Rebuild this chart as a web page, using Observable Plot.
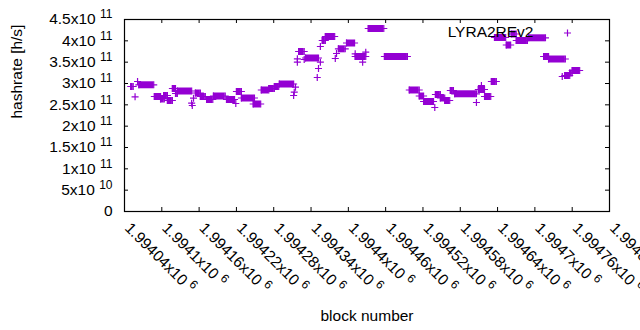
<!DOCTYPE html>
<html>
<head>
<meta charset="utf-8">
<script src="https://cdn.jsdelivr.net/npm/d3@7"></script>
<script src="https://cdn.jsdelivr.net/npm/@observablehq/plot@0.6"></script>
<style>
  html, body { margin: 0; padding: 0; background: #fff; }
</style>
</head>
<body>
<div id="chart"></div>
<script>
// ---- data ----
const BASE = 1994040;                 // first block on the axis
const seriesName = "LYRA2REv2";
// dense runs of blocks with the same hashrate: [first block offset, last block offset, hashrate in GH/s]
const runs = [
  [10,14,293],[23,47,297],[48,58,269.5],[58,64,263.7],[63,69,271.9],[69,77,260.2],
  [77,82,288.3],[82,85,276.6],[85,108,282.4],[114,122,277.7],[122,130,269.5],
  [132,142,262.5],[143,162,270.7],[164,177,262.5],[180,188,281.3],[188,209,266],
  [207,219,252],[220,232,284.8],[232,241,288.3],[241,248,293],[249,272,298.8],
  [280,289,375],[291,312,359.8],[318,323,400.8],[323,338,410.2],[344,355,381.3],
  [357,370,394.9],[371,388,363.3],[392,417,428.9],[418,455,363.3],[458,474,284.8],
  [474,481,270.7],[481,497,257.8],[500,508,274.2],[508,515,266],[515,523,260.2],
  [524,529,283.6],[531,566,275.9],[569,579,285.9],[579,589,269.5],[590,598,304.7],
  [595,613,407.8],[614,621,390.2],[622,630,416],[630,648,400.8],[650,677,407.1],
  [674,682,363.3],[682,709,357.4],[708,716,318.8],[716,720,324.6],[720,732,330.5]
];
// isolated blocks: [block offset, hashrate in GH/s]
const singles = [
  [17,268.8],[21,304.7],[109,248.4],[108,253.8],[111,265.5],[179,253.1],
  [275,291.3],[273,279.6],[272,271.9],[278,357.9],[278,349.9],[289,356.3],
  [315,349.9],[312,335.2],[310,314.1],[315,386.7],[339,358.6],[341,370.3],
  [371,369.6],[383,349.9],[388,373.4],[499,243.8],[566,255.5],[574,295.3],[704,316.4]
];
const xTicks = [1994040,1994100,1994160,1994220,1994280,1994340,1994400,1994460,1994520,1994580,1994640,1994700,1994760,1994820];
const yTicks = [0,0.5e11,1e11,1.5e11,2e11,2.5e11,3e11,3.5e11,4e11,4.5e11];
const xDomain = [1994040, 1994820];
const yDomain = [0, 4.5e11];

// ---- build ----
const runRows = runs.map(([a, b, v]) => ({x1: BASE + a, x2: BASE + b, y: v * 1e9}));
const endRows = runRows.flatMap(r => [{x: r.x1, y: r.y}, {x: r.x2, y: r.y}]);
const singleRows = singles.map(([a, v]) => ({x: BASE + a, y: v * 1e9}));

const W = 640, H = 330, ML = 124, MR = 31, MT = 19, MB = 119;
const IW = W - ML - MR, IH = H - MT - MB;
const TICK = 4;
const color = "#9400d3";

function yFmt(v) {
  if (v === 0) return "0";
  const e = Math.floor(Math.log10(v));
  const m = +(v / Math.pow(10, e)).toFixed(3);
  return `${m}x10^${e}`;
}
function xFmt(v) {
  const m = +(v / 1e6).toFixed(5);
  return `${m}x10^6`;
}

const plot = Plot.plot({
  width: W, height: H,
  marginLeft: ML, marginRight: MR, marginTop: MT, marginBottom: MB,
  style: {fontFamily: "'Liberation Sans', Arial, sans-serif", fontSize: "15.5px", color: "#000", background: "#fff"},
  x: {domain: xDomain, axis: null},
  y: {domain: yDomain, axis: null},
  marks: [
    // inward ticks on all four sides
    Plot.tickY(yTicks, {y: d => d, insetRight: IW - TICK, stroke: "black", strokeWidth: 1}),
    Plot.tickY(yTicks, {y: d => d, insetLeft: IW - TICK, stroke: "black", strokeWidth: 1}),
    Plot.tickX(xTicks, {x: d => d, insetTop: IH - TICK, stroke: "black", strokeWidth: 1}),
    Plot.tickX(xTicks, {x: d => d, insetBottom: IH - TICK, stroke: "black", strokeWidth: 1}),
    Plot.axisY({ticks: yTicks, anchor: "left", label: null, tickSize: 0, tickPadding: 12, tickFormat: yFmt, fill: "#000"}),
    Plot.axisX({ticks: xTicks, anchor: "bottom", label: null, tickSize: 0, tickPadding: 14, dx: 3, tickRotate: 45, tickFormat: xFmt, fill: "#000"}),
    // data
    Plot.ruleY(runRows, {x1: "x1", x2: "x2", y: "y", stroke: color, strokeWidth: 7}),
    Plot.dot(endRows, {x: "x", y: "y", symbol: "plus", r: 2.4, stroke: color, strokeWidth: 1.2}),
    Plot.dot(singleRows, {x: "x", y: "y", symbol: "plus", r: 2.4, stroke: color, strokeWidth: 1.2}),
    // key
    Plot.text([seriesName], {frameAnchor: "top-right", dx: -76, dy: 12.5, textAnchor: "end", lineAnchor: "middle", fill: "#000"}),
    Plot.dot([0], {frameAnchor: "top-right", dx: -42, dy: 13.5, symbol: "plus", r: 2.4, stroke: color, strokeWidth: 1.2}),
    // axis titles
    Plot.text(["block number"], {frameAnchor: "bottom", dy: 105, lineAnchor: "middle", fill: "#000"}),
    Plot.text(["hashrate [h/s]"], {frameAnchor: "left", dx: -107, dy: 3, rotate: -90, lineAnchor: "middle", fill: "#000"}),
    Plot.frame({stroke: "black", strokeWidth: 1.2})
  ]
});

// exponent as raised, smaller text
const NS = "http://www.w3.org/2000/svg";
for (const t of plot.querySelectorAll("text")) {
  const s = t.textContent;
  if (!s.includes("^")) continue;
  const [a, b] = s.split("^");
  t.textContent = "";
  const t1 = document.createElementNS(NS, "tspan");
  t1.textContent = a + " ";
  const t2 = document.createElementNS(NS, "tspan");
  t2.setAttribute("font-size", "12");
  t2.setAttribute("dy", "-6");
  t2.textContent = b;
  t.append(t1, t2);
}
document.getElementById("chart").append(plot);
</script>
</body>
</html>
